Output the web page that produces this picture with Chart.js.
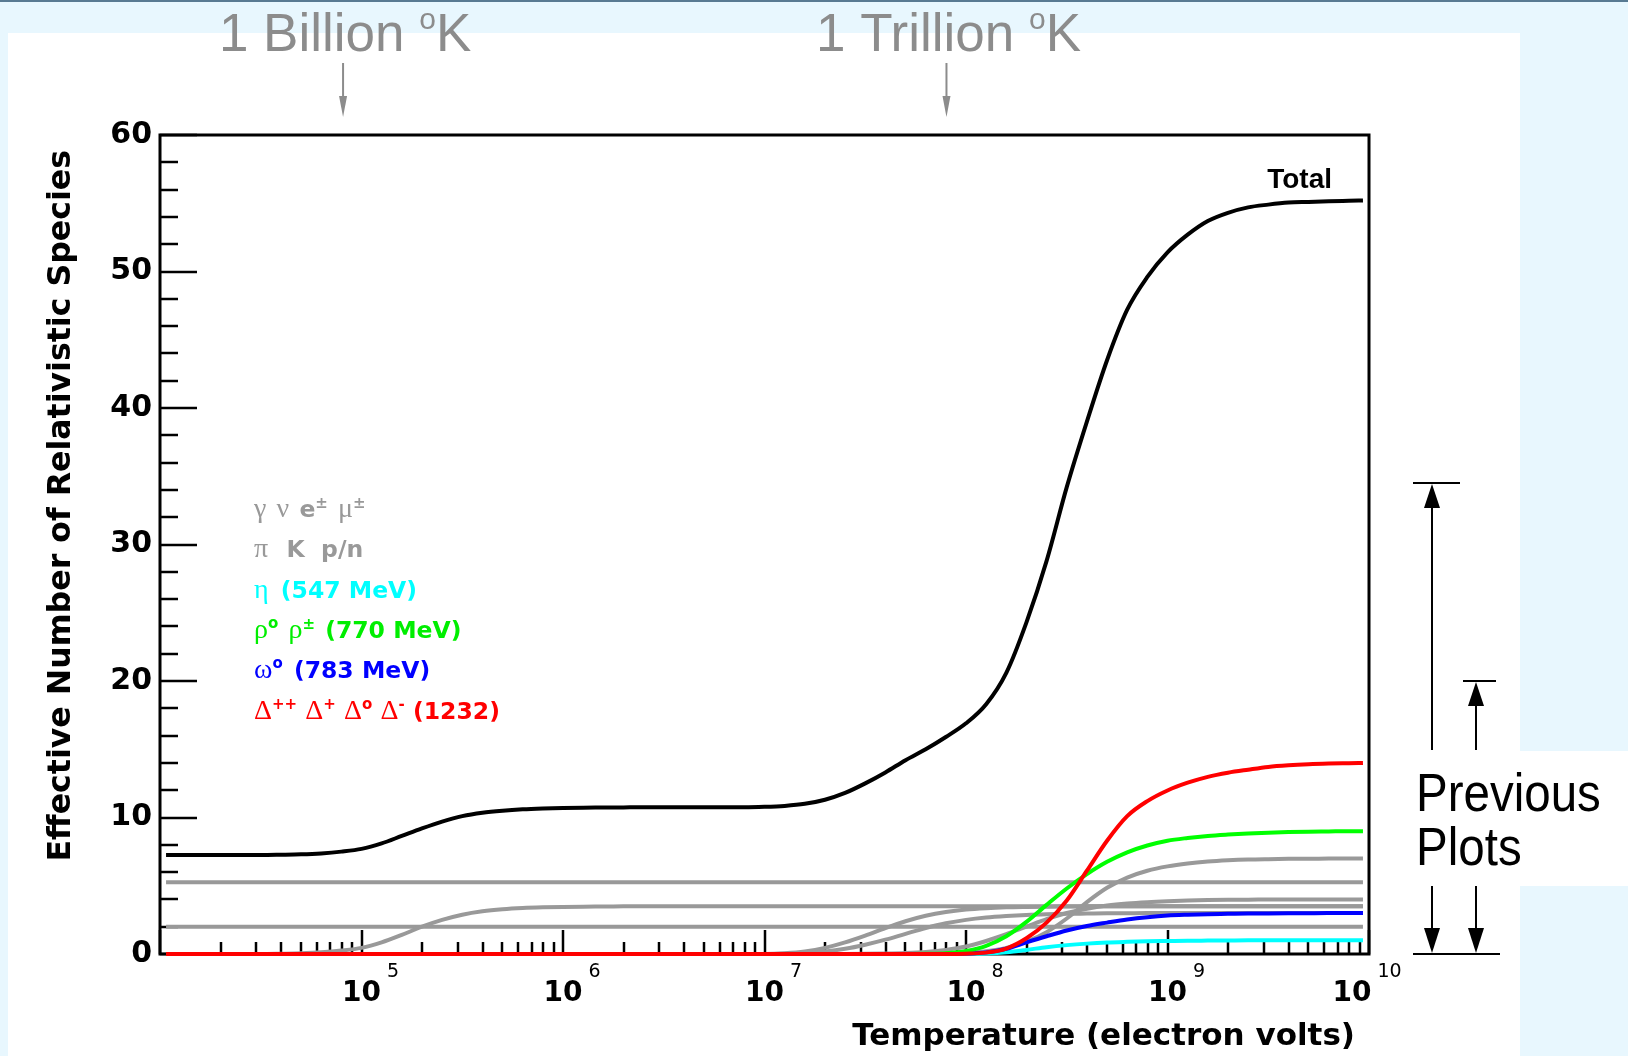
<!DOCTYPE html>
<html>
<head>
<meta charset="utf-8">
<script src="https://cdn.jsdelivr.net/npm/chart.js@4.4.1/dist/chart.umd.min.js"></script>
<style>
html, body { margin: 0; padding: 0; }
body { width: 1628px; height: 1056px; background: #e8f7fe; position: relative; overflow: hidden; }
#strip { position: absolute; left: 0; top: 0; width: 1628px; height: 2px; background: #587a92; }
#w1 { position: absolute; left: 8px; top: 33px; width: 1512px; height: 1023px; background: #ffffff; }
#w2 { position: absolute; left: 1520px; top: 751px; width: 108px; height: 135px; background: #ffffff; }
canvas { position: absolute; left: 0; top: 0; }
</style>
</head>
<body>
<div id="strip"></div><div id="w1"></div><div id="w2"></div>
<canvas id="c" width="1628" height="1056"></canvas>
<script>
// ---- Data (temperature as log10 of eV) ----
const temperatureExponent = [4.03,
  4.1, 4.2, 4.3, 4.4, 4.5, 4.6, 4.7, 4.8, 4.9,
  5.0, 5.1, 5.2, 5.3, 5.4, 5.5, 5.6, 5.7, 5.8, 5.9,
  6.0, 6.1, 6.2, 6.3, 6.4, 6.5, 6.6, 6.7, 6.8, 6.9,
  7.0, 7.1, 7.2, 7.3, 7.4, 7.5, 7.6, 7.7, 7.8, 7.9,
  8.0, 8.1, 8.2, 8.3, 8.4, 8.5, 8.6, 8.7, 8.8, 8.9,
  9.0, 9.1, 9.2, 9.3, 9.4, 9.5, 9.6, 9.7, 9.8, 9.9,
  9.97];

const photons = [2, 2, 2, 2, 2, 2, 2, 2, 2, 2,
  2, 2, 2, 2, 2, 2, 2, 2, 2, 2,
  2, 2, 2, 2, 2, 2, 2, 2, 2, 2,
  2, 2, 2, 2, 2, 2, 2, 2, 2, 2,
  2, 2, 2, 2, 2, 2, 2, 2, 2, 2,
  2, 2, 2, 2, 2, 2, 2, 2, 2, 2,
  2];

const neutrinos = [5.25, 5.25, 5.25, 5.25, 5.25, 5.25, 5.25, 5.25, 5.25, 5.25,
  5.25, 5.25, 5.25, 5.25, 5.25, 5.25, 5.25, 5.25, 5.25, 5.25,
  5.25, 5.25, 5.25, 5.25, 5.25, 5.25, 5.25, 5.25, 5.25, 5.25,
  5.25, 5.25, 5.25, 5.25, 5.25, 5.25, 5.25, 5.25, 5.25, 5.25,
  5.25, 5.25, 5.25, 5.25, 5.25, 5.25, 5.25, 5.25, 5.25, 5.25,
  5.25, 5.25, 5.25, 5.25, 5.25, 5.25, 5.25, 5.25, 5.25, 5.25,
  5.25];

const electrons = [0, 0, 0, 0, 0, 0, 0.02, 0.05, 0.12, 0.25,
  0.45, 0.85, 1.4, 2.0, 2.5, 2.88, 3.13, 3.28, 3.37, 3.42,
  3.45, 3.47, 3.48, 3.49, 3.5, 3.5, 3.5, 3.5, 3.5, 3.5,
  3.5, 3.5, 3.5, 3.5, 3.5, 3.5, 3.5, 3.5, 3.5, 3.5,
  3.5, 3.5, 3.5, 3.5, 3.5, 3.5, 3.5, 3.5, 3.5, 3.5,
  3.5, 3.5, 3.5, 3.5, 3.5, 3.5, 3.5, 3.5, 3.5, 3.5,
  3.5];

const muons = [0, 0, 0, 0, 0, 0, 0, 0, 0, 0,
  0, 0, 0, 0, 0, 0, 0, 0, 0, 0,
  0, 0, 0, 0, 0, 0, 0, 0, 0, 0,
  0, 0.05, 0.18, 0.45, 0.85, 1.35, 1.9, 2.4, 2.8, 3.08,
  3.26, 3.36, 3.42, 3.45, 3.47, 3.48, 3.49, 3.5, 3.5, 3.5,
  3.5, 3.5, 3.5, 3.5, 3.5, 3.5, 3.5, 3.5, 3.5, 3.5,
  3.5];

const pions = [0, 0, 0, 0, 0, 0, 0, 0, 0, 0,
  0, 0, 0, 0, 0, 0, 0, 0, 0, 0,
  0, 0, 0, 0, 0, 0, 0, 0, 0, 0,
  0, 0.02, 0.07, 0.18, 0.38, 0.68, 1.05, 1.48, 1.9, 2.25,
  2.5, 2.67, 2.78, 2.86, 2.91, 2.94, 2.96, 2.98, 2.99, 3,
  3, 3, 3, 3, 3, 3, 3, 3, 3, 3,
  3];

const kaons = [0, 0, 0, 0, 0, 0, 0, 0, 0, 0,
  0, 0, 0, 0, 0, 0, 0, 0, 0, 0,
  0, 0, 0, 0, 0, 0, 0, 0, 0, 0,
  0, 0, 0, 0, 0, 0.01, 0.03, 0.07, 0.15, 0.3,
  0.55, 0.95, 1.45, 2.0, 2.55, 3.0, 3.32, 3.55, 3.7, 3.8,
  3.87, 3.92, 3.95, 3.97, 3.98, 3.99, 4, 4, 4, 4,
  4];

const nucleons = [0, 0, 0, 0, 0, 0, 0, 0, 0, 0,
  0, 0, 0, 0, 0, 0, 0, 0, 0, 0,
  0, 0, 0, 0, 0, 0, 0, 0, 0, 0,
  0, 0, 0, 0, 0, 0, 0, 0, 0.01, 0.03,
  0.08, 0.2, 0.45, 0.9, 1.6, 2.6, 3.8, 4.85, 5.6, 6.1,
  6.42, 6.63, 6.77, 6.86, 6.92, 6.95, 6.97, 6.98, 6.99, 7,
  7];

const eta = [0, 0, 0, 0, 0, 0, 0, 0, 0, 0,
  0, 0, 0, 0, 0, 0, 0, 0, 0, 0,
  0, 0, 0, 0, 0, 0, 0, 0, 0, 0,
  0, 0, 0, 0, 0, 0, 0, 0, 0, 0,
  0.01, 0.04, 0.13, 0.3, 0.5, 0.65, 0.76, 0.84, 0.89, 0.93,
  0.95, 0.97, 0.98, 0.99, 1, 1, 1, 1, 1, 1,
  1];

const rho = [0, 0, 0, 0, 0, 0, 0, 0, 0, 0,
  0, 0, 0, 0, 0, 0, 0, 0, 0, 0,
  0, 0, 0, 0, 0, 0, 0, 0, 0, 0,
  0, 0, 0, 0, 0, 0, 0, 0, 0.01, 0.05,
  0.22, 0.6, 1.3, 2.35, 3.6, 4.8, 5.85, 6.75, 7.45, 7.95,
  8.3, 8.5, 8.65, 8.75, 8.83, 8.89, 8.93, 8.96, 8.98, 9,
  9];

const omega = [0, 0, 0, 0, 0, 0, 0, 0, 0, 0,
  0, 0, 0, 0, 0, 0, 0, 0, 0, 0,
  0, 0, 0, 0, 0, 0, 0, 0, 0, 0,
  0, 0, 0, 0, 0, 0, 0, 0, 0, 0,
  0.03, 0.12, 0.38, 0.85, 1.3, 1.72, 2.05, 2.3, 2.53, 2.7,
  2.82, 2.88, 2.92, 2.94, 2.96, 2.97, 2.98, 2.99, 3, 3,
  3];

const delta = [0, 0, 0, 0, 0, 0, 0, 0, 0, 0,
  0, 0, 0, 0, 0, 0, 0, 0, 0, 0,
  0, 0, 0, 0, 0, 0, 0, 0, 0, 0,
  0, 0, 0, 0, 0, 0, 0, 0, 0, 0,
  0.02, 0.1, 0.4, 1.15, 2.3, 3.92, 6.1, 8.3, 10.1, 11.2,
  11.98, 12.55, 12.98, 13.28, 13.5, 13.7, 13.82, 13.9, 13.95, 13.98,
  14];

const total = [7.25, 7.25, 7.25, 7.25, 7.25, 7.25, 7.27, 7.3, 7.37, 7.5,
  7.7, 8.1, 8.65, 9.2, 9.7, 10.1, 10.35, 10.5, 10.6, 10.66,
  10.7, 10.72, 10.73, 10.74, 10.75, 10.75, 10.75, 10.75, 10.75, 10.75,
  10.78, 10.85, 11.0, 11.3, 11.8, 12.5, 13.3, 14.2, 15.0, 15.9,
  16.9, 18.3, 20.6, 24.3, 28.8, 34.2, 39.0, 43.5, 47.2, 49.6,
  51.4, 52.7, 53.7, 54.3, 54.7, 54.9, 55.05, 55.1, 55.15, 55.18,
  55.2];

// ---- Ticks / annotation values ----
const xDecadeExponents = [4, 5, 6, 7, 8, 9, 10];
const xLabelExponents = [5, 6, 7, 8, 9, 10];
const xMinorMultipliers = [2, 3, 4, 5, 6, 7, 8, 9];
const yTickValues = [0, 2, 4, 6, 8, 10, 12, 14, 16, 18, 20, 22, 24, 26, 28, 30,
  32, 34, 36, 38, 40, 42, 44, 46, 48, 50, 52, 54, 56, 58, 60];
const temperatureMarkers = [
  { label: '1 Billion ', value: 8.1e4 },
  { label: '1 Trillion ', value: 8.0e7 }
];
const previousPlotLevels = [34.5, 20];

const GRAY = 'rgb(153,153,153)';
const pts = arr => temperatureExponent.map((e, i) => ({ x: Math.pow(10, e), y: arr[i] }));

const series = [
  { label: 'Total', values: total, color: '#000000', order: 0 },
  { label: 'Delta (1232)', values: delta, color: '#ff0000', order: 1 },
  { label: 'rho (770 MeV)', values: rho, color: '#00ff00', order: 2 },
  { label: 'omega (783 MeV)', values: omega, color: '#0000ff', order: 3 },
  { label: 'eta (547 MeV)', values: eta, color: '#00ffff', order: 4 },
  { label: 'p/n', values: nucleons, color: GRAY, order: 5 },
  { label: 'K', values: kaons, color: GRAY, order: 6 },
  { label: 'pi', values: pions, color: GRAY, order: 7 },
  { label: 'mu', values: muons, color: GRAY, order: 8 },
  { label: 'e', values: electrons, color: GRAY, order: 9 },
  { label: 'nu', values: neutrinos, color: GRAY, order: 10 },
  { label: 'gamma', values: photons, color: GRAY, order: 11 }
];

function drawRich(ctx, x, yBase, parts, color) {
  ctx.fillStyle = color;
  ctx.textAlign = 'left';
  ctx.textBaseline = 'alphabetic';
  for (const p of parts) {
    ctx.font = p.f;
    ctx.fillText(p.t, x, yBase + (p.dy || 0));
    x += ctx.measureText(p.t).width + (p.g || 0);
  }
  return x;
}

const frameAndTicks = {
  id: 'frameAndTicks',
  beforeDatasetsDraw(chart) {
    const { ctx, chartArea: a, scales: { x, y } } = chart;
    ctx.save();
    ctx.strokeStyle = '#000';
    ctx.lineWidth = 2.5;
    ctx.beginPath();
    for (const v of yTickValues) {
      const py = Math.round(y.getPixelForValue(v));
      const len = v % 10 === 0 ? 37 : 18;
      ctx.moveTo(a.left, py); ctx.lineTo(a.left + len, py);
    }
    for (const n of xDecadeExponents) {
      const px = Math.round(x.getPixelForValue(Math.pow(10, n)));
      ctx.moveTo(px, a.bottom); ctx.lineTo(px, a.bottom - 24);
      if (n < 10) {
        for (const m of xMinorMultipliers) {
          const qx = Math.round(x.getPixelForValue(m * Math.pow(10, n)));
          ctx.moveTo(qx, a.bottom); ctx.lineTo(qx, a.bottom - 12);
        }
      }
    }
    ctx.stroke();
    ctx.lineWidth = 3;
    ctx.strokeRect(a.left, a.top, a.right - a.left, a.bottom - a.top);
    ctx.restore();
  },
  afterDraw(chart) {
    const { ctx, chartArea: a, scales: { x, y } } = chart;
    ctx.save();
    ctx.fillStyle = '#000';
    ctx.textBaseline = 'alphabetic';
    // x tick labels 10^n
    for (const n of xLabelExponents) {
      const px = x.getPixelForValue(Math.pow(10, n)) + (n === 10 ? -17 : 0);
      ctx.font = 'bold 28px "DejaVu Sans"';
      ctx.textAlign = 'center';
      ctx.fillText('10', px, a.bottom + 47);
      const w = ctx.measureText('10').width;
      ctx.font = '19px "DejaVu Sans"';
      ctx.textAlign = 'left';
      ctx.fillText(String(n), px + w / 2 + 6, a.bottom + 23);
    }
    // axis titles
    ctx.font = 'bold 31px "DejaVu Sans"';
    ctx.textAlign = 'right';
    ctx.fillText('Temperature (electron volts)', a.right - 14, a.bottom + 91);
    ctx.save();
    ctx.font = 'bold 31.6px "DejaVu Sans"';
    ctx.translate(a.left - 90, a.top + 15);
    ctx.rotate(-Math.PI / 2);
    ctx.fillText('Effective Number of Relativistic Species', 0, 0);
    ctx.restore();
    // Total label
    ctx.font = 'bold 28px "Liberation Sans"';
    ctx.textAlign = 'right';
    ctx.fillText('Total', a.right - 37, a.top + 53);

    // legend text
    const G = '28px "Liberation Serif"';
    const B = 'bold 23.5px "DejaVu Sans"';
    const S = 'bold 15px "DejaVu Sans"';
    const lx = a.left + 94;
    const base = 517, step = 40.3;
    drawRich(ctx, lx, base, [
      { t: 'γ', f: G, g: 2 }, { t: ' ', f: B }, { t: 'ν', f: G, g: 2 }, { t: ' ', f: B },
      { t: 'e', f: B }, { t: '±', f: S, dy: -9 }, { t: ' ', f: B, g: 2 },
      { t: 'μ', f: G }, { t: '±', f: S, dy: -9 }], GRAY);
    drawRich(ctx, lx, base + step, [
      { t: 'π', f: G, g: 2 }, { t: '  K  p/n', f: B }], GRAY);
    drawRich(ctx, lx, base + 2 * step, [
      { t: 'η', f: G, g: 4 }, { t: ' (547 MeV)', f: B }], '#00ffff');
    drawRich(ctx, lx, base + 3 * step, [
      { t: 'ρ', f: G }, { t: 'o', f: S, dy: -10, g: 2 }, { t: ' ', f: B },
      { t: 'ρ', f: G }, { t: '±', f: S, dy: -9, g: 2 }, { t: ' (770 MeV)', f: B }], '#00ee00');
    drawRich(ctx, lx, base + 4 * step, [
      { t: 'ω', f: G }, { t: 'o', f: S, dy: -10, g: 3 }, { t: ' (783 MeV)', f: B }], '#0000ff');
    drawRich(ctx, lx, base + 5 * step, [
      { t: 'Δ', f: G }, { t: '++', f: S, dy: -10 }, { t: ' ', f: B },
      { t: 'Δ', f: G }, { t: '+', f: S, dy: -10 }, { t: ' ', f: B },
      { t: 'Δ', f: G }, { t: 'o', f: S, dy: -10 }, { t: ' ', f: B },
      { t: 'Δ', f: G }, { t: '-', f: S, dy: -10 }, { t: ' (1232)', f: B }], '#ff0000');

    // top temperature markers
    const TG = 'rgb(140,140,140)';
    for (const m of temperatureMarkers) {
      const px = x.getPixelForValue(m.value);
      const big = '53px "Liberation Sans"', small = '30px "Liberation Sans"';
      ctx.font = big; const w1 = ctx.measureText(m.label).width; const w3 = ctx.measureText('K').width;
      ctx.font = small; const w2 = ctx.measureText('o').width;
      const start = px + 2 - (w1 + w2 + w3) / 2;
      drawRich(ctx, start, 51, [{ t: m.label, f: big }, { t: 'o', f: small, dy: -22 }, { t: 'K', f: big }], TG);
      ctx.strokeStyle = TG; ctx.fillStyle = TG; ctx.lineWidth = 2;
      ctx.beginPath(); ctx.moveTo(px, 63); ctx.lineTo(px, 100); ctx.stroke();
      ctx.beginPath(); ctx.moveTo(px - 4, 96); ctx.lineTo(px + 4, 96); ctx.lineTo(px, 117); ctx.closePath(); ctx.fill();
    }

    // right side "Previous Plots" markers
    ctx.strokeStyle = '#000'; ctx.fillStyle = '#000'; ctx.lineWidth = 2;
    const y0 = y.getPixelForValue(0);
    const xs = [1432, 1476];
    const bars = [[1413, 1460], [1463, 1496]];
    previousPlotLevels.forEach((lv, i) => {
      const py = y.getPixelForValue(lv);
      const ax = xs[i];
      ctx.beginPath(); ctx.moveTo(bars[i][0], py); ctx.lineTo(bars[i][1], py); ctx.stroke();
      ctx.beginPath(); ctx.moveTo(ax, py + 20); ctx.lineTo(ax, 750); ctx.stroke();
      ctx.beginPath(); ctx.moveTo(ax, py + 1); ctx.lineTo(ax - 8, py + 25); ctx.lineTo(ax + 8, py + 25); ctx.closePath(); ctx.fill();
      ctx.beginPath(); ctx.moveTo(ax, 886); ctx.lineTo(ax, y0 - 20); ctx.stroke();
      ctx.beginPath(); ctx.moveTo(ax, y0 - 1); ctx.lineTo(ax - 8, y0 - 26); ctx.lineTo(ax + 8, y0 - 26); ctx.closePath(); ctx.fill();
    });
    ctx.beginPath(); ctx.moveTo(1413, y0); ctx.lineTo(1500, y0); ctx.stroke();
    ctx.font = '54px "Liberation Sans"';
    ctx.textAlign = 'left';
    ctx.save(); ctx.translate(1416, 811); ctx.scale(0.88, 1); ctx.fillText('Previous', 0, 0); ctx.restore();
    ctx.save(); ctx.translate(1416, 865); ctx.scale(0.88, 1); ctx.fillText('Plots', 0, 0); ctx.restore();
    ctx.restore();
  }
};

new Chart(document.getElementById('c'), {
  type: 'scatter',
  data: {
    datasets: series.map(s => ({
      label: s.label,
      data: pts(s.values),
      borderColor: s.color,
      backgroundColor: s.color,
      borderWidth: 4,
      showLine: true,
      fill: false,
      pointRadius: 0,
      pointHoverRadius: 0,
      cubicInterpolationMode: 'monotone',
      borderJoinStyle: 'round',
      clip: 8,
      order: s.order
    }))
  },
  options: {
    responsive: false,
    animation: false,
    devicePixelRatio: 1,
    events: [],
    layout: { padding: { left: 0, right: 259, top: 135, bottom: 102 } },
    plugins: { legend: { display: false }, tooltip: { enabled: false } },
    scales: {
      x: { type: 'logarithmic', min: 1e4, max: 1e10, display: false },
      y: {
        type: 'linear', min: 0, max: 60,
        ticks: { stepSize: 10, color: '#000', padding: 8, font: { family: 'DejaVu Sans', weight: 'bold', size: 30 } },
        grid: { display: false, drawTicks: false },
        border: { display: false },
        afterFit(scale) { scale.width = 160; }
      }
    }
  },
  plugins: [frameAndTicks]
});
</script>
</body>
</html>
